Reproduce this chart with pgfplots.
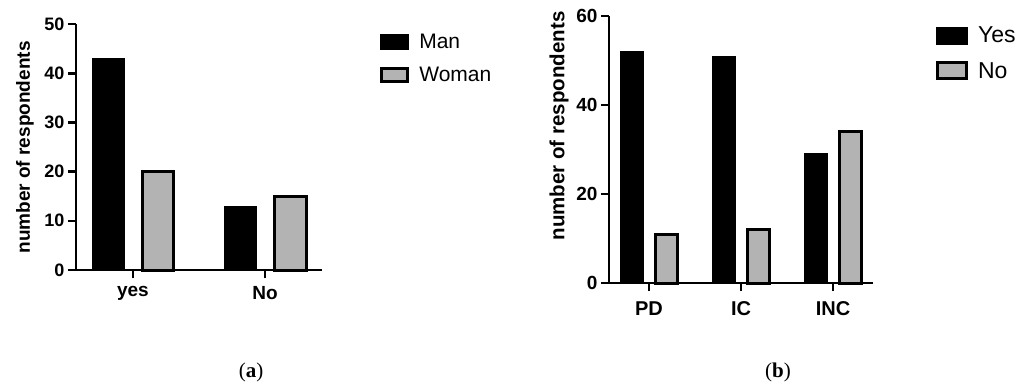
\documentclass[border=0pt]{standalone}
\usepackage{fontspec}
\setmainfont{Liberation Sans}
\newfontfamily\capfont{Liberation Serif}
\usepackage{pgfplots}
\pgfplotsset{compat=1.18}
\definecolor{barGray}{HTML}{B3B3B3}
\pgfplotsset{
  mybars/.style={
    scale only axis,
    axis x line*=bottom, axis y line*=left,
    axis line style={line width=2.6pt,-},
    every tick/.style={line width=2.6pt,black},
    major tick length=8pt,
    tick align=outside,
    ymin=0,
    clip=false,
    ybar, bar width=0.24,
    /pgf/number format/assume math mode=true,
    yticklabel style={font=\bfseries\fontsize{18}{18}\selectfont},
    xticklabel style={font=\bfseries\fontsize{19}{19}\selectfont, yshift=-5pt},
    legend cell align=left,
    legend style={draw=none, fill=none, anchor=north west,
      /tikz/every odd column/.append style={column sep=8pt}},
  },
  blackbar/.style={draw=black, fill=black, line width=1pt, bar shift=-0.185,
    legend image code/.code={\draw[draw=black,fill=black,line width=1pt] (0.5pt,-7.5pt) rectangle (28.5pt,7.5pt);}},
  graybar/.style={draw=black, fill=barGray, line width=3pt, bar shift=0.19,
    legend image code/.code={\draw[draw=black,fill=barGray,line width=3pt] (1.5pt,-6.5pt) rectangle (27.5pt,6.5pt);}},
  blackbarB/.style={blackbar,
    legend image code/.code={\draw[draw=black,fill=black,line width=1pt] (0.5pt,-8.5pt) rectangle (31.5pt,8.5pt);}},
  graybarB/.style={graybar,
    legend image code/.code={\draw[draw=black,fill=barGray,line width=3pt] (1.5pt,-8pt) rectangle (30.5pt,8pt);}},
}
\begin{document}
\begin{tikzpicture}
\path[use as bounding box] (0pt,0pt) rectangle (1027pt,383pt);
% (a)
\begin{axis}[mybars,
  at={(76pt,113pt)}, anchor=south west,
  width=246pt, height=246pt,
  xmin=-0.43, xmax=1.43, ymax=50,
  xtick={0,1}, xticklabels={yes,No},
  ytick={0,10,20,30,40,50},
  ylabel={number of respondents},
  ylabel style={font=\bfseries\fontsize{19}{19}\selectfont, at={(axis description cs:-0.207,0.498)}, anchor=center},
  legend style={at={(axis description cs:1.224,0.975)}, font=\fontsize{21}{21}\selectfont, row sep=13pt},
]
\addplot[blackbar] coordinates {(0,43) (1,13)};
\addplot[graybar] coordinates {(0,20) (1,15)};
\legend{Man,Woman}
\end{axis}
% (b)
\begin{axis}[mybars,
  at={(609pt,100pt)}, anchor=south west,
  width=264pt, height=267pt,
  xmin=-0.435, xmax=2.435, ymax=60,
  xtick={0,1,2}, xticklabels={PD,IC,INC},
  ytick={0,20,40,60},
  yticklabel style={font=\bfseries\fontsize{19}{19}\selectfont},
  xticklabel style={font=\bfseries\fontsize{20}{20}\selectfont, yshift=-2pt},
  ylabel={number of respondents},
  ylabel style={font=\bfseries\fontsize{20.5}{20.5}\selectfont, at={(axis description cs:-0.189,0.588)}, anchor=center},
  legend style={at={(axis description cs:1.227,0.975)}, font=\fontsize{23}{23}\selectfont, row sep=14pt},
]
\addplot[blackbarB] coordinates {(0,52) (1,51) (2,29)};
\addplot[graybarB] coordinates {(0,11) (1,12) (2,34)};
\legend{Yes,No}
\end{axis}
\node[font=\capfont\fontsize{21}{21}\selectfont] at (251pt,11pt) {(\textbf{a})};
\node[font=\capfont\fontsize{21}{21}\selectfont] at (778pt,11pt) {(\textbf{b})};
\end{tikzpicture}
\end{document}
